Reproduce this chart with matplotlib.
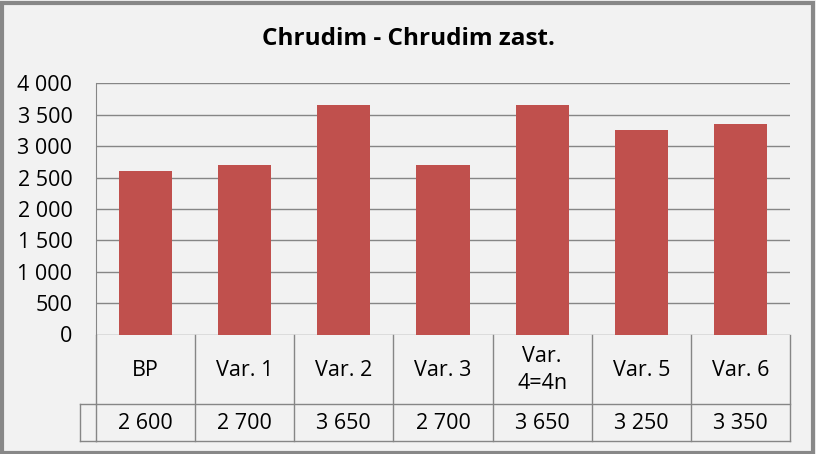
import matplotlib.pyplot as plt
from matplotlib.patches import Rectangle

categories = ["BP", "Var. 1", "Var. 2", "Var. 3", "Var.\n4=4n", "Var. 5", "Var. 6"]
values = [2600, 2700, 3650, 2700, 3650, 3250, 3350]
value_labels = ["2 600", "2 700", "3 650", "2 700", "3 650", "3 250", "3 350"]
yticks = [0, 500, 1000, 1500, 2000, 2500, 3000, 3500, 4000]
ytick_labels = ["0", "500", "1 000", "1 500", "2 000", "2 500", "3 000", "3 500", "4 000"]

W, H = 816, 454
bg = "#F2F2F2"
line_c = "#868686"
font = "Open Sans"
fs = 15.5

fig = plt.figure(figsize=(W / 100, H / 100), dpi=100, facecolor=bg)
# outer frame
fig.patches.append(Rectangle((1.5 / W, 1.5 / H), 1 - 5 / W, 1 - 4 / H, transform=fig.transFigure,
                             fill=False, edgecolor="#888888", lw=3))

def fx(px):
    return px / W

def fy(px):
    return 1 - px / H

left, right, top, bottom = 96, 790, 83.3, 334.5
ax = fig.add_axes([fx(left), fy(bottom), fx(right) - fx(left), fy(top) - fy(bottom)])
ax.set_facecolor(bg)
x = range(len(categories))
ax.bar(x, values, width=0.535, color="#C0504D", zorder=3)
ax.set_xlim(-0.5, len(categories) - 0.5)
ax.set_ylim(0, 4000)
ax.set_yticks(yticks)
ax.set_yticklabels(ytick_labels, fontfamily=font, fontsize=fs)
ax.tick_params(axis="y", length=0, pad=17)
ax.set_xticks([])
ax.grid(axis="y", color=line_c, lw=1, zorder=1)
for s in ["top", "right", "bottom"]:
    ax.spines[s].set_visible(False)
ax.spines["left"].set_color(line_c)

fig.text(fx(408), fy(39), "Chrudim - Chrudim zast.", ha="center", va="center",
         fontfamily=font, fontsize=17.5, fontweight="bold")

# data table below the plot
t_top, t_mid, t_bot = 334.5, 404, 441
tab = fig.add_axes([fx(left), fy(t_bot), fx(right) - fx(left), fy(t_top) - fy(t_bot)])
tab.set_xlim(-0.5, len(categories) - 0.5)
tab.set_ylim(t_bot, t_top)
tab.axis("off")
for i in range(len(categories) + 1):
    tab.plot([i - 0.5, i - 0.5], [t_top, t_bot], color=line_c, lw=1, clip_on=False)
tab.plot([-0.5, len(categories) - 0.5], [t_mid, t_mid], color=line_c, lw=1, clip_on=False)
tab.plot([-0.5, len(categories) - 0.5], [t_bot, t_bot], color=line_c, lw=1, clip_on=False)
# small legend-key cell at the left of the value row
cell = (left - 80) / ((right - left) / len(categories))
tab.plot([-0.5 - cell, -0.5], [t_mid, t_mid], color=line_c, lw=1, clip_on=False)
tab.plot([-0.5 - cell, -0.5], [t_bot, t_bot], color=line_c, lw=1, clip_on=False)
tab.plot([-0.5 - cell, -0.5 - cell], [t_mid, t_bot], color=line_c, lw=1, clip_on=False)
for i, (c, v) in enumerate(zip(categories, value_labels)):
    tab.text(i, (t_top + t_mid) / 2 + 1, c, ha="center", va="center", fontfamily=font,
             fontsize=fs, linespacing=1.4)
    tab.text(i, (t_mid + t_bot) / 2 + 1, v, ha="center", va="center", fontfamily=font,
             fontsize=fs)

fig.savefig("out.png", dpi=100, facecolor=bg)
